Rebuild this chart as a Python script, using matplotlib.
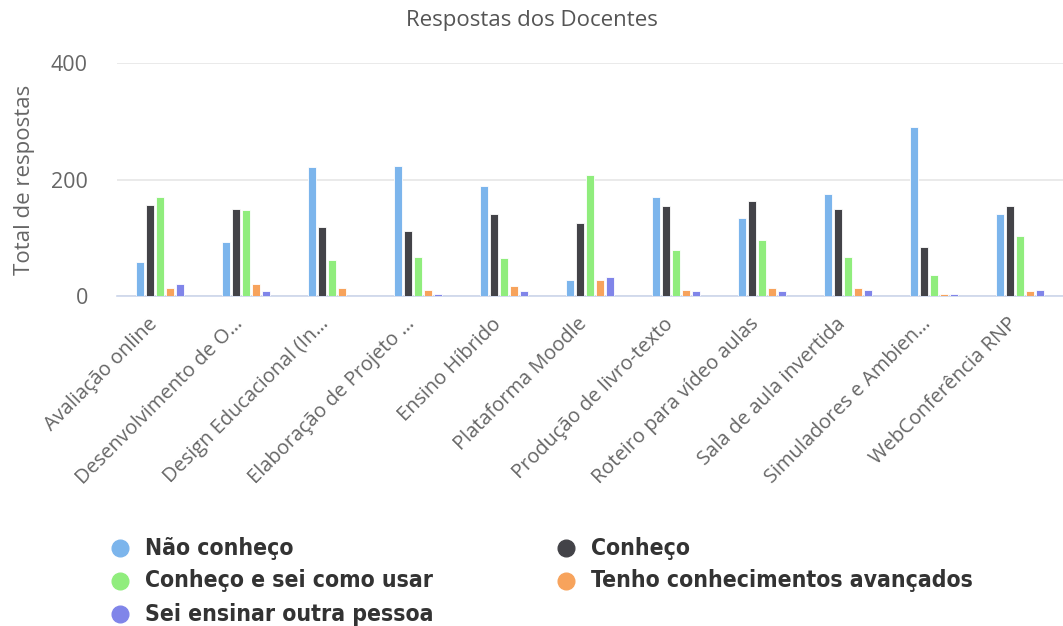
import numpy as np
import matplotlib.pyplot as plt
from matplotlib.lines import Line2D
from matplotlib.transforms import ScaledTranslation

categorias = ['Avaliação online', 'Desenvolvimento de O…', 'Design Educacional (In…',
              'Elaboração de Projeto …', 'Ensino Híbrido', 'Plataforma Moodle',
              'Produção de livro-texto', 'Roteiro para vídeo aulas',
              'Sala de aula invertida', 'Simuladores e Ambien…', 'WebConferência RNP']

nao_conheco = [58, 93, 221, 224, 189, 27, 170, 135, 176, 291, 141]
conheco = [157, 150, 119, 112, 141, 125, 154, 163, 150, 84, 154]
conheco_usar = [170, 148, 62, 68, 65, 208, 80, 96, 68, 36, 103]
avancados = [14, 20, 14, 11, 17, 27, 11, 14, 14, 4, 8]
ensinar = [20, 8, 0, 4, 8, 33, 8, 8, 11, 4, 11]

series = [nao_conheco, conheco, conheco_usar, avancados, ensinar]
nomes = ['Não conheço', 'Conheço', 'Conheço e sei como usar',
         'Tenho conhecimentos avançados', 'Sei ensinar outra pessoa']
cores = ['#7cb5ec', '#434348', '#90ed7d', '#f7a35c', '#8085e9']

fig = plt.figure(figsize=(10.63, 6.26), dpi=100)
ax = fig.add_axes([0.110, 0.527, 0.890, 0.372])

x = np.arange(len(categorias))
passo = 0.117
largura = 0.088
for i, (vals, cor) in enumerate(zip(series, cores)):
    ax.bar(x + (i - 2) * passo, vals, width=largura, color=cor,
           edgecolor='white', linewidth=0.6, zorder=3)

ax.set_xlim(-0.5, len(categorias) - 0.5)
ax.set_ylim(0, 400)
ax.set_yticks([0, 200, 400])
ax.yaxis.grid(True, color='#e6e6e6', linewidth=1.2, zorder=0)
for s in ['top', 'right', 'left']:
    ax.spines[s].set_visible(False)
ax.spines['bottom'].set_color('#ccd6eb')
ax.spines['bottom'].set_linewidth(1.2)
ax.tick_params(axis='y', length=0, pad=21, labelsize=15.5, labelcolor='#666666')
ax.tick_params(axis='x', length=0, pad=18)
for lbl in ax.get_yticklabels():
    lbl.set_family('Open Sans')
ax.set_xticks(x)
ax.set_xticklabels(categorias, rotation=45, ha='right', va='center',
                   rotation_mode='anchor',
                   fontsize=14.4, color='#666666', family='Open Sans')
desloc = ScaledTranslation(-4 / 72, 0, fig.dpi_scale_trans)
for lbl in ax.get_xticklabels():
    lbl.set_transform(lbl.get_transform() + desloc)
ax.set_ylabel('Total de respostas', fontsize=16, color='#666666',
              family='Open Sans')
ax.yaxis.set_label_coords(-0.087, 0.5)

fig.text(0.5, 0.967, 'Respostas dos Docentes', ha='center', va='center',
         fontsize=16, color='#555555', family='Open Sans')

# legenda em duas colunas
leg_x = [120, 120, 120, 566, 566]
leg_y = [548, 581, 614, 548, 581]
ordem = [0, 2, 4, 1, 3]
W, H = 1063, 626
for k, i in enumerate(ordem):
    fx = leg_x[k] / W
    fy = 1 - leg_y[k] / H
    fig.add_artist(Line2D([fx], [fy], marker='o', markersize=12,
                          markerfacecolor=cores[i], markeredgecolor=cores[i],
                          linestyle='', transform=fig.transFigure))
    fig.text(fx + 25 / W, fy, nomes[i], ha='left', va='center',
             fontsize=16.5, fontweight='bold', fontstretch='condensed',
             family='DejaVu Sans', color='#333333')

fig.savefig('out.png', dpi=100)
